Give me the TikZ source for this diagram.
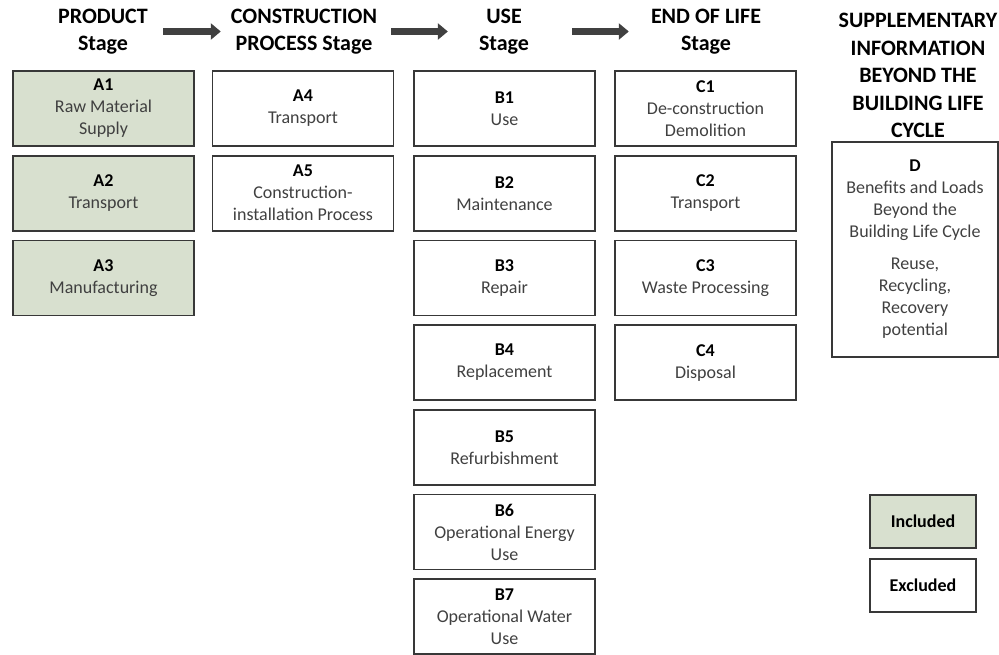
\documentclass[tikz,border=0pt]{standalone}
\usepackage{fontspec}
\setmainfont{Carlito}
\usetikzlibrary{arrows.meta}
\definecolor{inclfill}{HTML}{D8E0CF}
\definecolor{boxline}{HTML}{383838}
\definecolor{bodytext}{HTML}{404040}
\definecolor{arrowgray}{HTML}{404040}
\newcommand{\code}[1]{{\color{black}\bfseries #1}}
\tikzset{
  stagebox/.style={draw=boxline,line width=1.8pt,minimum width=181pt,minimum height=75pt,
    inner sep=0pt,align=center,text=bodytext,font=\fontsize{18}{22}\selectfont},
  inclbox/.style={stagebox,fill=inclfill},
  head/.style={inner sep=0pt,align=center,font=\fontsize{22}{27.5}\selectfont\bfseries},
  flow/.style={line width=7pt,draw=arrowgray,-{Triangle[length=10pt,width=16pt]}}
}
\begin{document}
\begin{tikzpicture}[x=1pt,y=-1pt]
\useasboundingbox (0,0) rectangle (999,654);
% headings
\node[head] (tP) at (103,31.5) {PRODUCT\\Stage};
\node[head] (tC) at (304,31.5) {CONSTRUCTION\\PROCESS Stage};
\node[head] (tU) at (504,31.5) {USE\\Stage};
\node[head] (tE) at (706,31.5) {END OF LIFE\\Stage};
\node[head] (tS) at (918,75.5) {SUPPLEMENTARY\\INFORMATION\\BEYOND THE\\BUILDING LIFE\\CYCLE};
\foreach \a/\b/\s/\e in {tP/tC/15/10,tC/tU/14/31,tU/tE/43/22}
  \draw[flow,shorten <=\s pt,shorten >=\e pt] (\a) -- (\b);
% product stage
\foreach \n/\t [count=\i from 0] in {A1/{Raw Material\\Supply},A2/Transport,A3/Manufacturing}
  \node[inclbox] (\n) at (103.5,108.5+84.7*\i) {\code{\n}\\\t};
% construction process stage
\foreach \n/\t [count=\i from 0] in {A4/Transport,A5/{Construction-\\installation Process}}
  \node[stagebox] (\n) at (303,108.5+84.7*\i) {\code{\n}\\\t};
% use stage
\foreach \n/\t [count=\i from 0] in {B1/Use,B2/Maintenance,B3/Repair,B4/Replacement,
    B5/Refurbishment,B6/{Operational Energy\\Use},B7/{Operational Water\\Use}}
  \node[stagebox] (\n) at (504.5,108.5+84.7*\i) {\code{\n}\\\t};
% end of life stage
\foreach \n/\t [count=\i from 0] in {C1/{De-construction\\Demolition},C2/Transport,
    C3/Waste Processing,C4/Disposal}
  \node[stagebox] (\n) at (705.5,108.5+84.7*\i) {\code{\n}\\\t};
% beyond the life cycle
\node[stagebox,minimum width=166pt,minimum height=215pt] (D) at (915,249.5)
  {\code{D}\\Benefits and Loads\\Beyond the\\Building Life Cycle\\[10pt]Reuse,\\Recycling,\\Recovery\\potential};
% legend
\node[inclbox,minimum width=106pt,minimum height=53pt,text=black,font=\fontsize{18}{22}\selectfont\bfseries] (inc) at (923,521.5) {Included};
\node[stagebox,minimum width=106pt,minimum height=53pt,text=black,font=\fontsize{18}{22}\selectfont\bfseries] (exc) at (923,585.5) {Excluded};
\end{tikzpicture}
\end{document}
